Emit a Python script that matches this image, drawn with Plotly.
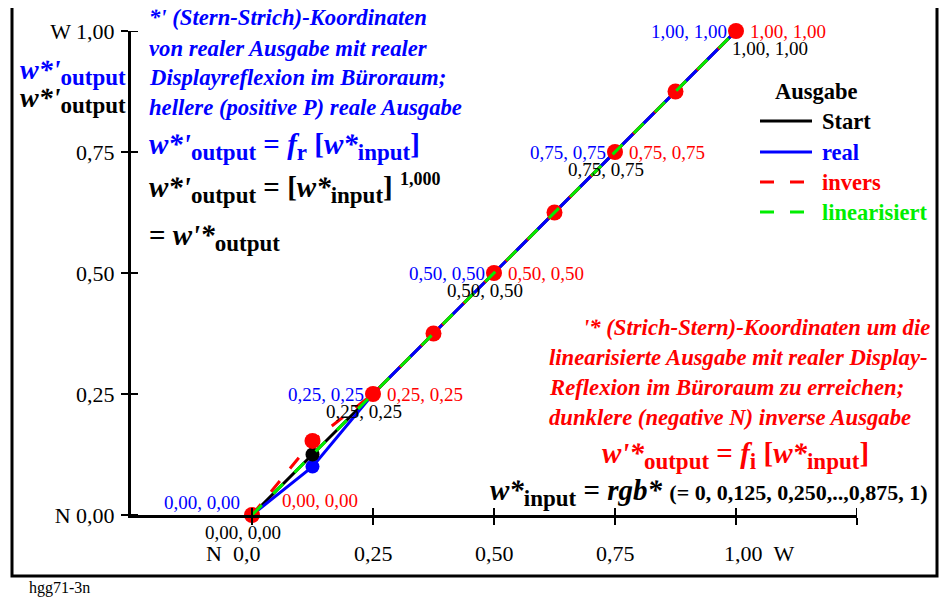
import plotly.graph_objects as go

# ---------------- data ----------------
w_input = [0.0, 0.125, 0.25, 0.375, 0.5, 0.625, 0.75, 0.875, 1.0]
start_out = [0.0, 0.125, 0.25, 0.375, 0.5, 0.625, 0.75, 0.875, 1.0]
real_out = [0.0, 0.100, 0.25, 0.375, 0.5, 0.625, 0.75, 0.875, 1.0]
invers_out = [0.0, 0.153, 0.25, 0.375, 0.5, 0.625, 0.75, 0.875, 1.0]
linear_out = [0.0, 0.125, 0.25, 0.375, 0.5, 0.625, 0.75, 0.875, 1.0]

series_names = ["Start", "real", "invers", "linearisiert"]
series_colors = ["#000000", "#0000ff", "#ff0000", "#00ee00"]
series_dash = ["solid", "solid", "14px,16px", "14px,16px"]

x_tick_vals = [0.0, 0.25, 0.5, 0.75, 1.0]
x_tick_text = ["N&nbsp;&nbsp;0,0", "0,25", "0,50", "0,75", "1,00&nbsp;&nbsp;W"]
y_tick_vals = [0.0, 0.25, 0.5, 0.75, 1.0]
y_tick_text = ["N 0,00", "0,25", "0,50", "0,75", "W 1,00"]
label_vals = [0.0, 0.25, 0.5, 0.75, 1.0]
label_text = ["0,00, 0,00", "0,25, 0,25", "0,50, 0,50", "0,75, 0,75", "1,00, 1,00"]

# ---------------- geometry helpers ----------------
OFF = 8                      # page body margin
W, H = 944, 592
ML, MR, MT, MB = 123, 95, 23, 85
PW, PH = W - ML - MR, H - MT - MB


def px(xp):
    return (xp - OFF - ML) / PW


def py(yp):
    return (H - MB - (yp - OFF)) / PH


FONT = "Liberation Serif"

fig = go.Figure()

# lines
fig.add_trace(go.Scatter(x=w_input, y=start_out, mode="lines", showlegend=False,
                         line=dict(color=series_colors[0], width=3), cliponaxis=False))
fig.add_trace(go.Scatter(x=w_input, y=real_out, mode="lines", showlegend=False,
                         line=dict(color=series_colors[1], width=3), cliponaxis=False))
fig.add_trace(go.Scatter(x=w_input, y=invers_out, mode="lines", showlegend=False,
                         line=dict(color=series_colors[2], width=3, dash=series_dash[2]), cliponaxis=False))
# markers
fig.add_trace(go.Scatter(x=w_input[1:2], y=real_out[1:2], mode="markers", showlegend=False,
                         marker=dict(color=series_colors[1], size=14), cliponaxis=False))
fig.add_trace(go.Scatter(x=w_input[1:2], y=start_out[1:2], mode="markers", showlegend=False,
                         marker=dict(color=series_colors[0], size=14), cliponaxis=False))
fig.add_trace(go.Scatter(x=w_input, y=invers_out, mode="markers", showlegend=False,
                         marker=dict(color=series_colors[2], size=16), cliponaxis=False))
fig.add_trace(go.Scatter(x=w_input, y=linear_out, mode="lines", showlegend=False,
                         line=dict(color=series_colors[3], width=3, dash=series_dash[3]), cliponaxis=False))

annotations = []

# point labels
for i, (v, t) in enumerate(zip(label_vals, label_text)):
    first = i == 0
    last = i == len(label_vals) - 1
    annotations.append(dict(x=v, y=v, xref="x", yref="y", text=t, showarrow=False,
                            xanchor="right", xshift=-10 if first else -7, yshift=13 if first else 0,
                            font=dict(family=FONT, size=19, color="#0000ff")))
    annotations.append(dict(x=v, y=v, xref="x", yref="y", text=t, showarrow=False,
                            xanchor="left", xshift=28 if first else 12, yshift=15 if first else 0,
                            font=dict(family=FONT, size=19, color="#ff0000")))
    annotations.append(dict(x=v, y=v, xref="x", yref="y", text=t, showarrow=False,
                            xanchor="left" if last else "center", xshift=-6 if last else -9,
                            yshift=-17,
                            font=dict(family=FONT, size=19, color="#000000")))

# x tick labels
for v, t in zip(x_tick_vals, x_tick_text):
    xa, xs = "center", 0
    if t.startswith("N"):
        xa, xs = "right", 10
    elif t.endswith("W"):
        xa, xs = "left", -14
    annotations.append(dict(x=v, y=py(553), xref="x", yref="paper", text=t, showarrow=False,
                            xanchor=xa, xshift=xs, yanchor="middle",
                            font=dict(family=FONT, size=22, color="black")))


def txt(xp, yp, text, size, color, xanchor="left"):
    annotations.append(dict(x=px(xp), y=py(yp), xref="paper", yref="paper", text=text,
                            showarrow=False, xanchor=xanchor, yanchor="middle",
                            font=dict(family=FONT, size=size, color=color)))


def sub(s, size=23):
    return "<sub><span style='font-size:%dpx'>%s</span></sub>" % (size, s)


# left-top blue block
blue_lines = ["*' (Stern-Strich)-Koordinaten",
              "von realer Ausgabe mit realer",
              "Displayreflexion im Büroraum;",
              "hellere (positive P) reale Ausgabe"]
for k, line in enumerate(blue_lines):
    txt(147, 18 + 30 * k, "<b><i>" + line + "</i></b>", 22.7, "#0000ff")

BIG = 29
txt(147, 146, "<b><i>w*'</i>" + sub("output") + " = <i>f</i>" + sub("r") + " [<i>w*</i>" + sub("input") + "]</b>",
    BIG, "#0000ff")
txt(147, 188, "<b><i>w*'</i>" + sub("output") + " = [<i>w*</i>" + sub("input") +
    "] <sup><span style='font-size:18px'>1,000</span></sup></b>", BIG, "#000000")
txt(147, 238, "<b>= <i>w'*</i>" + sub("output") + "</b>", BIG, "#000000")

# left outside labels
txt(128, 72, "<b><i>w*'</i>" + sub("output") + "</b>", 28, "#0000ff", xanchor="right")
txt(128, 100, "<b><i>w*'</i>" + sub("output") + "</b>", 28, "#000000", xanchor="right")

# right red block
txt(932, 327, "<b><i>'* (Strich-Stern)-Koordinaten um die</i></b>", 22.7, "#ff0000", xanchor="right")
red_lines = ["linearisierte Ausgabe mit realer Display-",
             "Reflexion im Büroraum zu erreichen;",
             "dunklere (negative N) inverse Ausgabe"]
for k, line in enumerate(red_lines):
    txt(547, 357 + 30 * k, "<b><i>" + line + "</i></b>", 22.7, "#ff0000")
txt(735, 455, "<b><i>w'*</i>" + sub("output") + " = <i>f</i>" + sub("i") + " [<i>w*</i>" + sub("input") + "]</b>",
    BIG, "#ff0000", xanchor="center")
txt(930, 492, "<b><i>w*</i>" + sub("input") + " = <i>rgb*</i> <span style='font-size:22px'>(= 0, 0,125, 0,250,..,0,875, 1)</span></b>",
    BIG, "#000000", xanchor="right")

# legend (manual)
txt(816, 92, "<b>Ausgabe</b>", 22.5, "#000000", xanchor="center")
legend_y = [121, 152, 182, 212]
shapes = []
for name, col, dash, ly in zip(series_names, series_colors, series_dash, legend_y):
    shapes.append(dict(type="line", xref="paper", yref="paper", x0=px(760), x1=px(812), y0=py(ly), y1=py(ly),
                       line=dict(color=col, width=3, dash=dash)))
    txt(820, ly, "<b>" + name + "</b>", 22.5, col)

# footer
txt(27, 588, "hgg71-3n", 16, "#000000")

# frame
shapes.append(dict(type="rect", xref="paper", yref="paper", x0=px(12), x1=px(937), y0=py(576), y1=py(-10),
                   line=dict(color="black", width=3), fillcolor="rgba(0,0,0,0)", layer="below"))
# inner halves of crossing ticks
for v in x_tick_vals + [1.25]:
    shapes.append(dict(type="line", xref="x", yref="y", x0=v, x1=v, ysizemode="pixel", yanchor=0,
                       y0=0, y1=7, line=dict(color="black", width=2)))
for v in y_tick_vals:
    shapes.append(dict(type="line", xref="x", yref="y", y0=v, y1=v, xsizemode="pixel", xanchor=-0.25,
                       x0=0, x1=7, line=dict(color="black", width=2)))

fig.update_layout(
    width=W, height=H,
    margin=dict(l=ML, r=MR, t=MT, b=MB),
    paper_bgcolor="white", plot_bgcolor="white",
    font=dict(family=FONT, color="black"),
    showlegend=False,
    xaxis=dict(range=[-0.25, 1.25], showgrid=False, zeroline=False, showline=True, linewidth=3,
               linecolor="black", ticks="outside", tickvals=x_tick_vals + [1.25], ticklen=7, tickwidth=2,
               tickcolor="black", showticklabels=False),
    yaxis=dict(range=[0, 1], showgrid=False, zeroline=False, showline=True, linewidth=3,
               linecolor="black", ticks="outside", tickvals=y_tick_vals, ticktext=y_tick_text, ticklen=7,
               tickwidth=2, tickcolor="black", ticklabelstandoff=2,
               tickfont=dict(family=FONT, size=22, color="black")),
    annotations=annotations,
    shapes=shapes,
)

fig.write_html("out.html")
